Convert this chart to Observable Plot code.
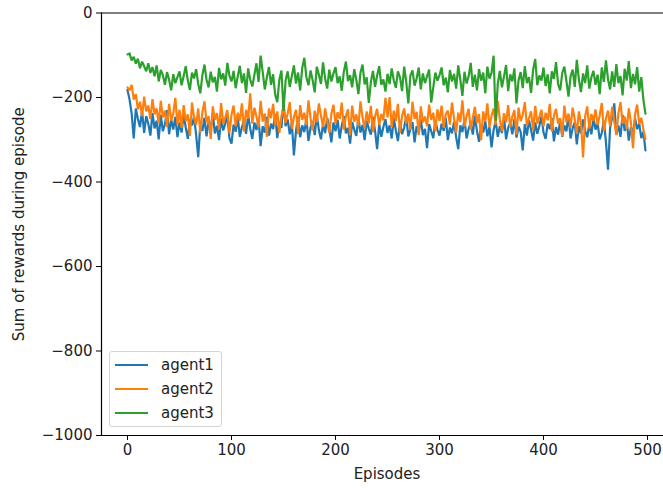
<!DOCTYPE html>
<html><head><meta charset="utf-8">
<script src="https://cdn.jsdelivr.net/npm/d3@7"></script>
<script src="https://cdn.jsdelivr.net/npm/@observablehq/plot@0.6"></script>
<style>
html,body{margin:0;padding:0;background:#fff;overflow:hidden;}
#wrap{position:relative;width:663px;height:488px;overflow:hidden;}
.legend{position:absolute;left:109px;top:351px;width:113px;height:76px;border:1px solid #d4d4d4;border-radius:3px;background:rgba(255,255,255,0.8);font-family:"DejaVu Sans";font-size:15px;color:#222;box-sizing:border-box;}
.item{position:absolute;left:5px;height:20px;display:flex;align-items:center;white-space:nowrap;}
.sw{width:33px;height:2px;margin-right:13px;}
</style></head><body><div id="wrap"></div>
<script>
// x positions (episode index, every second episode)
const episodes = d3.range(0, 500, 2);
const xTicks = [0, 100, 200, 300, 400, 500];
const yTicks = [0, -200, -400, -600, -800, -1000];
const agentNames = ["agent1", "agent2", "agent3"];
const agentColors = ["#1f77b4", "#ff7f0e", "#2ca02c"];

const agent1 = [
-182,-205,-238,-297,-226,-251,-270,-232,-284,-244,-262,-290,-237,-273,-255,-299,-241,-280,-263,-230,-287,-252,-276,-246,-294,
-259,-283,-240,-271,-298,-252,-266,-245,-289,-341,-263,-279,-248,-292,-257,-274,-238,-285,-267,-301,-250,-278,-262,-243,-296,
-309,-264,-281,-247,-293,-270,-255,-286,-241,-274,-298,-259,-277,-250,-315,-268,-283,-246,-290,-262,-275,-239,-296,-258,-272,
-210,-268,-252,-287,-261,-337,-279,-245,-294,-266,-282,-250,-303,-271,-256,-289,-242,-277,-299,-263,-284,-248,-273,-306,-259,
-280,-253,-297,-267,-244,-285,-272,-309,-258,-276,-291,-249,-283,-265,-301,-255,-274,-288,-246,-279,-322,-262,-293,-270,-251,
-284,-266,-297,-249,-278,-303,-260,-287,-271,-245,-292,-275,-258,-306,-268,-283,-252,-289,-274,-320,-263,-280,-296,-255,-277,
-290,-262,-279,-248,-301,-271,-285,-257,-294,-322,-266,-282,-251,-297,-274,-260,-288,-243,-279,-305,-264,-283,-256,-292,-270,
-318,-277,-256,-293,-268,-284,-247,-299,-272,-260,-287,-251,-295,-269,-281,-325,-263,-290,-254,-276,-302,-259,-286,-267,-245,
-283,-298,-262,-275,-249,-304,-270,-288,-256,-293,-266,-280,-241,-297,-273,-259,-311,-268,-285,-252,-279,-294,-263,-287,-248,
-276,-261,-299,-284,-255,-305,-371,-272,-247,-214,-288,-266,-293,-241,-279,-258,-302,-270,-286,-249,-275,-262,-296,-281,-325
];
const agent2 = [
-176,-183,-170,-205,-192,-228,-210,-244,-198,-233,-219,-251,-204,-240,-226,-262,-208,-247,-231,-270,-215,-255,-238,-201,-264,
-229,-272,-218,-256,-240,-291,-212,-248,-265,-226,-283,-235,-209,-259,-244,-298,-221,-253,-237,-276,-213,-262,-247,-230,-285,
-241,-219,-268,-236,-255,-214,-280,-229,-250,-190,-262,-224,-245,-271,-208,-257,-238,-293,-226,-249,-215,-266,-233,-284,-244,
-222,-260,-238,-211,-274,-246,-229,-287,-218,-253,-236,-266,-207,-249,-278,-231,-259,-214,-243,-270,-226,-255,-284,-239,-217,
-262,-235,-251,-212,-276,-244,-228,-290,-219,-257,-240,-268,-209,-248,-273,-233,-261,-220,-282,-245,-227,-265,-239,-254,-201,
-247,-199,-270,-231,-256,-215,-284,-243,-226,-262,-238,-277,-210,-251,-234,-289,-221,-259,-245,-268,-217,-253,-236,-280,-228,
-255,-219,-272,-240,-231,-264,-212,-250,-283,-236,-258,-207,-269,-244,-227,-276,-248,-222,-261,-239,-301,-233,-257,-214,-270,
-243,-226,-265,-208,-252,-280,-237,-259,-218,-271,-245,-230,-288,-224,-256,-241,-211,-267,-249,-233,-278,-220,-262,-246,-229,
-268,-236,-254,-215,-281,-243,-227,-262,-249,-292,-219,-258,-238,-271,-224,-252,-286,-233,-260,-342,-245,-221,-274,-239,-256,
-228,-265,-242,-213,-279,-250,-231,-268,-222,-256,-289,-237,-211,-262,-245,-274,-226,-258,-320,-240,-217,-263,-248,-276,-298
];
const agent3 = [
-98,-96,-112,-104,-120,-108,-131,-115,-126,-138,-119,-142,-128,-150,-124,-162,-135,-147,-170,-140,-158,-183,-145,-166,-152,
-138,-171,-149,-126,-160,-182,-141,-155,-133,-168,-190,-147,-122,-158,-176,-139,-164,-151,-186,-130,-157,-143,-172,-118,-149,
-162,-137,-178,-150,-125,-166,-143,-189,-131,-158,-174,-146,-119,-163,-101,-140,-181,-152,-128,-170,-145,-193,-211,-158,-136,
-232,-160,-138,-175,-149,-124,-167,-141,-183,-130,-106,-152,-171,-136,-159,-188,-127,-146,-168,-117,-155,-179,-134,-162,-143,
-128,-166,-150,-184,-139,-115,-161,-147,-176,-133,-158,-192,-141,-122,-169,-152,-213,-163,-137,-175,-148,-126,-170,-157,-186,
-144,-168,-131,-159,-177,-138,-152,-185,-127,-163,-214,-148,-136,-172,-155,-129,-181,-143,-166,-150,-134,-212,-176,-141,-160,
-147,-129,-171,-153,-188,-135,-162,-144,-179,-124,-158,-196,-139,-167,-150,-118,-175,-146,-183,-133,-160,-141,-190,-127,-155,
-142,-101,-255,-168,-137,-176,-150,-123,-185,-145,-162,-131,-214,-159,-140,-178,-126,-166,-152,-189,-134,-109,-171,-148,-160,
-129,-173,-145,-190,-138,-156,-116,-168,-183,-142,-127,-161,-198,-150,-134,-175,-111,-158,-187,-143,-166,-124,-179,-152,-137,
-170,-146,-192,-129,-163,-112,-157,-181,-138,-175,-121,-166,-149,-195,-132,-160,-114,-178,-144,-169,-128,-186,-152,-205,-238
];

const series = [agent1, agent2, agent3];
const lineMarks = series.map((vals, k) =>
  Plot.line(episodes.map((e, i) => ({episode: e, reward: vals[i]})),
    {x: "episode", y: "reward", stroke: agentColors[k], strokeWidth: 2.2, strokeLinejoin: "miter", strokeMiterlimit: 2})
);

const xDomain = [-25, 524];
const yDomain = [-1000, 0];
const chart = Plot.plot({
  width: 663, height: 488,
  marginLeft: 101, marginRight: -9, marginTop: 12.5, marginBottom: 53,
  style: {fontFamily: "DejaVu Sans", fontSize: "15px", color: "#000", background: "#fff"},
  x: {domain: xDomain},
  y: {domain: yDomain},
  marks: [
    Plot.axisX({ticks: xTicks, tickFormat: d3.format("d"), tickSize: 5, tickPadding: 4, label: "Episodes", labelAnchor: "center", labelOffset: 43, labelArrow: "none", fill: "#222"}),
    Plot.axisY({ticks: yTicks, tickFormat: d3.format("d"), tickSize: 5, tickPadding: 4, label: "Sum of rewards during episode", labelAnchor: "center", labelOffset: 88, labelArrow: "none", fill: "#222"}),
    ...lineMarks,
    Plot.ruleY(yDomain, {stroke: "#000", strokeWidth: 1.2}),
    Plot.ruleX([xDomain[0]], {stroke: "#000", strokeWidth: 1.2})
  ]
});
const wrap = document.getElementById("wrap");
wrap.appendChild(chart);

const legend = document.createElement("div");
legend.className = "legend";
agentNames.forEach((name, k) => {
  const it = document.createElement("div");
  it.className = "item";
  it.style.top = (3 + k * 24) + "px";
  it.innerHTML = `<span class="sw" style="background:${agentColors[k]}"></span><span>${name}</span>`;
  legend.appendChild(it);
});
wrap.appendChild(legend);
</script>
</body></html>
